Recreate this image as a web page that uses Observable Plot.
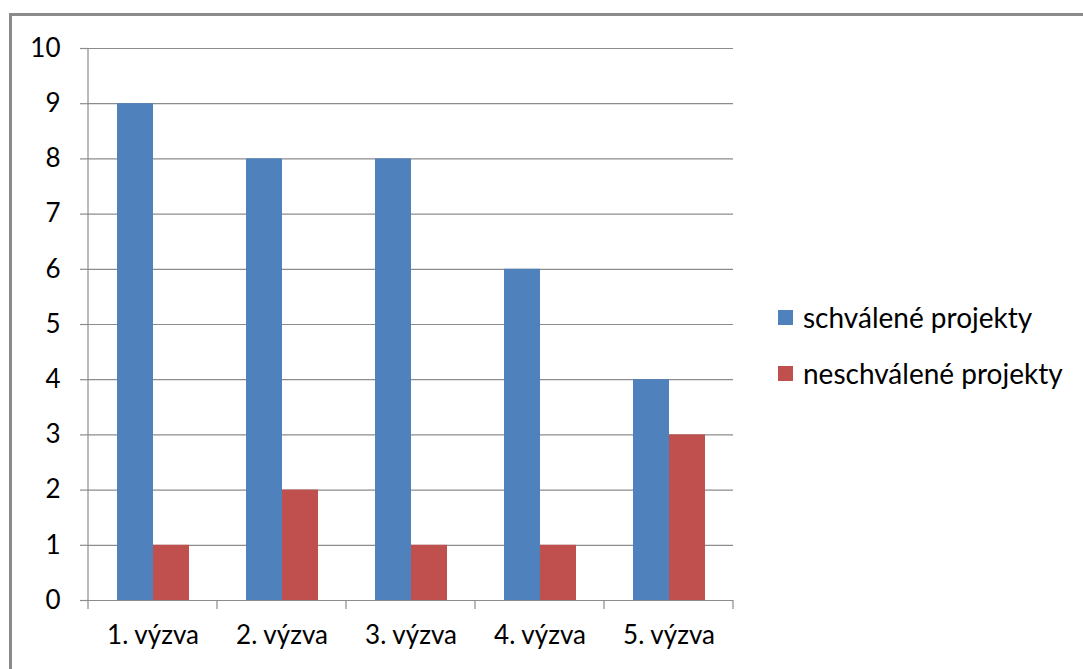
<!DOCTYPE html>
<html>
<head>
<meta charset="utf-8">
<script src="https://cdn.jsdelivr.net/npm/d3@7"></script>
<script src="https://cdn.jsdelivr.net/npm/@observablehq/plot@0.6"></script>
<style>
  html, body { margin: 0; padding: 0; background: #fff; }
  body { width: 1083px; height: 669px; position: relative; overflow: hidden; font-family: Lato, "Open Sans", sans-serif; }
  #frame { position: absolute; left: 9px; top: 13px; width: 1200px; height: 800px; border: 3px solid #8a8a8a; box-sizing: border-box; }
  #chart { position: absolute; left: 0; top: 0; }
  #legend { position: absolute; left: 778px; top: 301px; font-size: 28px; color: #000; }
  .item { display: flex; align-items: center; height: 32px; margin-bottom: 24px; }
  .sw { width: 15px; height: 15px; margin-right: 10px; }
</style>
</head>
<body>
<div id="frame"></div>
<div id="chart"></div>
<div id="legend"></div>
<script>
const categories = ["1. výzva", "2. výzva", "3. výzva", "4. výzva", "5. výzva"];
const seriesNames = ["schválené projekty", "neschválené projekty"];
const approved = [9, 8, 8, 6, 4];
const rejected = [1, 2, 1, 1, 3];
const colors = ["#4F81BD", "#C0504D"];
const yTicks = [0, 1, 2, 3, 4, 5, 6, 7, 8, 9, 10];

const data = categories.flatMap((c, i) => [
  {cat: c, series: seriesNames[0], value: approved[i]},
  {cat: c, series: seriesNames[1], value: rejected[i]}
]);

const gray = "#8c8c8c";

const plot = Plot.plot({
  width: 760,
  height: 669,
  marginLeft: 88,
  marginRight: 27,
  marginTop: 48,
  marginBottom: 69,
  style: {fontFamily: "Lato, 'Open Sans', sans-serif", fontSize: "26px", color: "#000", background: "transparent"},
  fx: {domain: categories, padding: 0},
  x: {domain: seriesNames, paddingInner: 0, paddingOuter: 0.767, axis: null},
  y: {domain: [0, 10]},
  color: {domain: seriesNames, range: colors},
  marks: [
    Plot.gridY(yTicks, {stroke: gray, strokeOpacity: 1, strokeWidth: 1.2}),
    Plot.axisY(yTicks, {anchor: "left", tickSize: 8, tickPadding: 20, tickFormat: d3.format("d"), stroke: gray, strokeWidth: 1.2, label: null, fontSize: 26, fill: "#000"}),
    Plot.barY(data, {fx: "cat", x: "series", y: "value", fill: "series"}),
    Plot.ruleY([0], {stroke: gray, strokeWidth: 1.2}),
    Plot.axisFx({anchor: "bottom", tickSize: 0, tickPadding: 25, label: null, fontSize: 26, fill: "#000"})
  ]
});

document.getElementById("chart").appendChild(plot);

// axis line and category boundary ticks, positioned with the plot's own scales
const fx = plot.scale("fx");
const y = plot.scale("y");
const svg = d3.select(plot);
const y0 = y.apply(0), y10 = y.apply(10);
const bounds = categories.map(c => fx.apply(c));
bounds.push(fx.apply(categories[categories.length - 1]) + fx.bandwidth);
svg.append("line")
  .attr("x1", bounds[0]).attr("x2", bounds[0])
  .attr("y1", y10).attr("y2", y0)
  .attr("stroke", gray).attr("stroke-width", 1.2);
svg.append("g").selectAll("line").data(bounds).join("line")
  .attr("x1", d => d).attr("x2", d => d)
  .attr("y1", y0).attr("y2", y0 + 9)
  .attr("stroke", gray).attr("stroke-width", 1.2);

// legend
const legend = d3.select("#legend");
seriesNames.forEach((s, i) => {
  const it = legend.append("div").attr("class", "item");
  it.append("div").attr("class", "sw").style("background", colors[i]);
  it.append("span").text(s);
});
</script>
</body>
</html>
